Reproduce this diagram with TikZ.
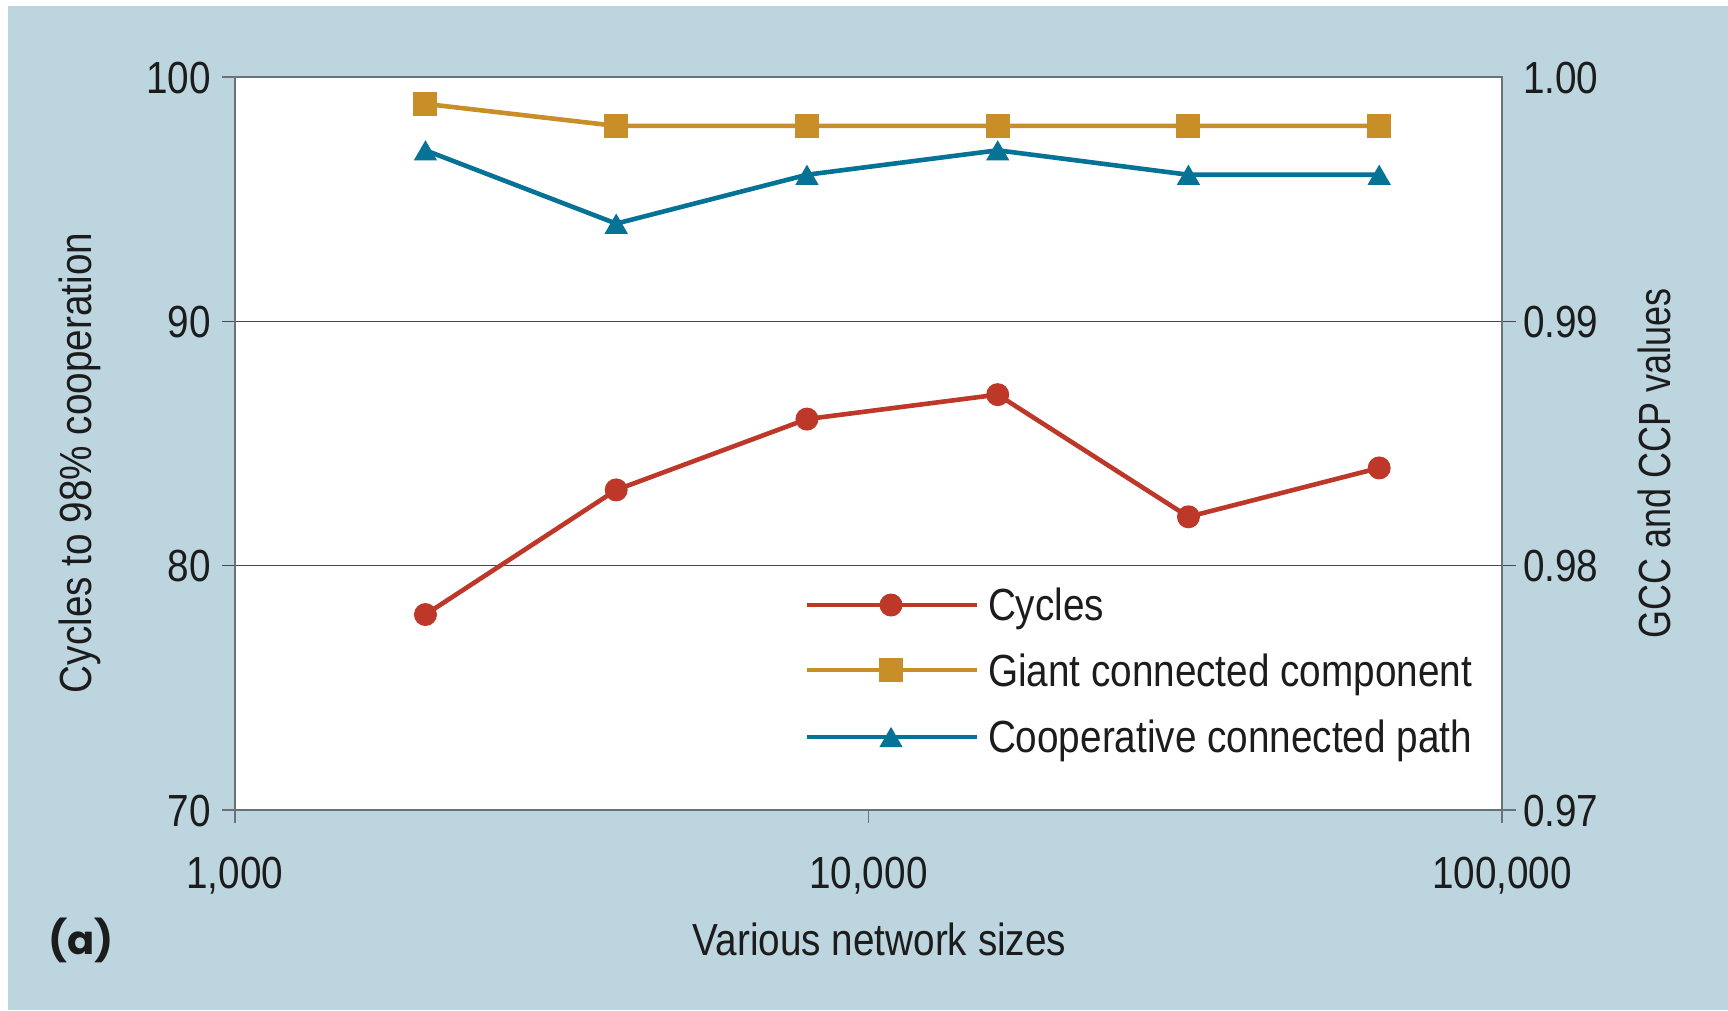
\documentclass[tikz,border=0pt]{standalone}
\usepackage{fontspec}
\setmainfont{Liberation Sans}[FakeStretch=0.86]
\newfontfamily\slimfont{Liberation Sans}[FakeStretch=0.8]
\newfontfamily\tagfont{Poppins}
\usetikzlibrary{shapes.geometric}

\definecolor{panel}{RGB}{189,213,222}
\definecolor{cycred}{RGB}{190,56,42}
\definecolor{gccgold}{RGB}{200,143,40}
\definecolor{ccpteal}{RGB}{6,115,150}
\definecolor{axisgray}{RGB}{105,114,120}
\definecolor{gridgray}{RGB}{70,72,74}
\definecolor{ink}{RGB}{28,28,28}

\begin{document}
\begin{tikzpicture}[x=1pt,y=1pt,
  every node/.style={text=ink, inner sep=0pt, outer sep=0pt},
  lab/.style={font=\fontsize{45}{50}\selectfont},
  frameln/.style={draw=axisgray, line width=1.6pt},
  gridln/.style={draw=gridgray, line width=1.4pt},
  cycline/.style={draw=cycred, line width=4.6pt, line join=round},
  gccline/.style={draw=gccgold, line width=4.6pt, line join=round},
  ccpline/.style={draw=ccpteal, line width=4.6pt, line join=round},
  cycmark/.style={circle, fill=cycred, minimum size=23pt},
  gccmark/.style={rectangle, fill=gccgold, minimum size=24pt},
  ccpmark/.style={regular polygon, regular polygon sides=3, fill=ccpteal,
                  minimum size=27pt, yshift=-3.4pt},
]
% page and panel
\useasboundingbox (0,0) rectangle (1728,-1010);
\fill[white] (0,0) rectangle (1728,-1010);
\fill[panel] (8,-6) rectangle (1728,-1010);

% plot area: x = log10(size) - 3, y = cycles - 70 (right axis: 0.97 + y/1000)
\begin{scope}[shift={(234.7,-810)}, x=633.65pt, y=24.433pt]
  \fill[white] (0,0) rectangle (2,30);

  % grid lines and ticks
  \foreach \v in {10,20}
    \draw[gridln] ([xshift=-12.5pt]0,\v) -- ([xshift=14pt]2,\v);
  \draw[frameln] ([xshift=-12.5pt]0,30) -- (0,30);
  \draw[frameln] ([xshift=-12.5pt]0,0) -- (0,0);
  \draw[frameln] ([xshift=-14pt]2,0) -- ([xshift=14pt]2,0);
  \foreach \u in {0,1,2}
    \draw[frameln] (\u,0) -- ([yshift=-13pt]\u,0);
  \draw[frameln] (0,0) rectangle (2,30);

  % left axis labels
  \foreach \v/\t in {0/70,10/80,20/90,30/100}
    \node[lab, anchor=base east] (yl\t) at ([xshift=-24pt, yshift=-16pt]0,\v) {\t};
  % right axis labels
  \foreach \v/\t/\n in {0/0.97/a,10/0.98/b,20/0.99/c,30/1.00/d}
    \node[lab, anchor=base west] (yr\n) at ([xshift=21pt, yshift=-16pt]2,\v) {\t};
  % bottom axis labels
  \foreach \u/\t/\n in {0/{1,000}/a,1/{10,000}/b,2/{100,000}/c}
    \node[lab, anchor=base] (xl\n) at ([yshift=-78pt]\u,0) {\t};

  % data points (2,000 to 64,000 nodes)
  \foreach \i/\u/\c/\g/\p in {1/0.30103/8/28.9/27, 2/0.60206/13.1/28/24,
                             3/0.90309/16/28/26, 4/1.20412/17/28/27,
                             5/1.50515/12/28/26, 6/1.80618/14/28/26} {
    \coordinate (c\i) at (\u,\c);
    \coordinate (g\i) at (\u,\g);
    \coordinate (p\i) at (\u,\p);
  }
  \draw[cycline] (c1) -- (c2) -- (c3) -- (c4) -- (c5) -- (c6);
  \draw[gccline] (g1) -- (g2) -- (g3) -- (g4) -- (g5) -- (g6);
  \draw[ccpline] (p1) -- (p2) -- (p3) -- (p4) -- (p5) -- (p6);
  \foreach \i in {1,...,6} {
    \node[cycmark] (mc\i) at (c\i) {};
    \node[gccmark] (mg\i) at (g\i) {};
    \node[ccpmark] (mp\i) at (p\i) {};
  }
\end{scope}

% legend
\coordinate (lca) at (807,-605); \coordinate (lcb) at (977,-605);
\coordinate (lga) at (807,-670); \coordinate (lgb) at (977,-670);
\coordinate (lpa) at (807,-737); \coordinate (lpb) at (977,-737);
\draw[cycline] (lca) -- (lcb);
\draw[gccline] (lga) -- (lgb);
\draw[ccpline] (lpa) -- (lpb);
\node[cycmark] (lcm) at (891,-605) {};
\node[gccmark] (lgm) at (891,-670) {};
\node[ccpmark] (lpm) at (891,-737) {};
\node[lab, anchor=base west] (lct) at (988,-620) {Cycles};
\node[lab, anchor=base west] (lgt) at (988,-686) {Giant connected component};
\node[lab, anchor=base west] (lpt) at (988,-752) {Cooperative connected path};

% axis titles
\node[lab, rotate=90, anchor=base] (ytl) at (91,-463) {Cycles to 98\% cooperation};
\node[font=\slimfont\fontsize{45}{50}\selectfont, rotate=90, anchor=base] (ytr) at (1670,-463) {GCC and CCP values};
\node[lab, anchor=base] (xt) at (879.5,-955) {Various network sizes};
\node[font=\tagfont\bfseries\fontsize{40}{44}\selectfont] (tag) at (81,-940) {(a)};
\end{tikzpicture}
\end{document}
